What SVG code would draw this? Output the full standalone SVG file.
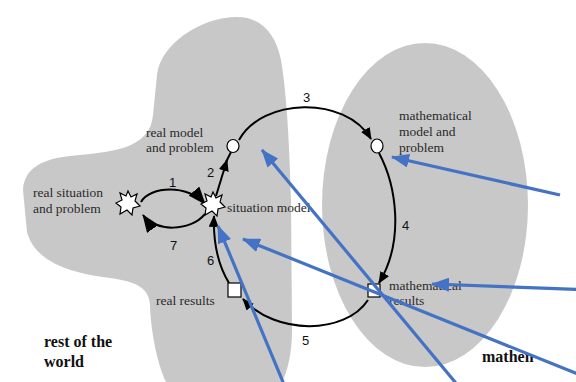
<svg xmlns="http://www.w3.org/2000/svg" width="576" height="382" viewBox="0 0 576 382">
<style>
.region{fill:#c8c8c8;stroke:none}
.lbl{font-family:"Liberation Serif",serif;font-size:13.5px;fill:#2a2a2a}
.big{font-family:"Liberation Serif",serif;font-size:16px;font-weight:bold;fill:#111}
.num{font-family:"Liberation Sans",sans-serif;font-size:13px;fill:#111}
.arc{fill:none;stroke:#000;stroke-width:2}
.blue{fill:none;stroke:#4472c4;stroke-width:3.2}
.node{fill:#fff;stroke:#000;stroke-width:1.2}
</style>
<defs>
<marker id="ah" viewBox="0 0 12 10" refX="11" refY="5" markerWidth="12" markerHeight="10" markerUnits="userSpaceOnUse" orient="auto"><path d="M0,0 L12,5 L0,10 Z" fill="#000"/></marker>
<marker id="ahBig" viewBox="0 0 18 14" refX="17" refY="7" markerWidth="18" markerHeight="14" markerUnits="userSpaceOnUse" orient="auto"><path d="M0,0 L18,7 L0,14 Z" fill="#000"/></marker>
<marker id="bh" viewBox="0 0 18 14" refX="17" refY="7" markerWidth="18" markerHeight="14" markerUnits="userSpaceOnUse" orient="auto"><path d="M0,0 L18,7 L0,14 Z" fill="#4472c4"/></marker>
</defs>
<g id="regions">
<path class="region" d="M237,17 C262,17 276,35 281,60 C286,90 289,130 291,200 L292,330 C292,355 287,372 282,382 L166,382 C158,365 151,335 150,305 C149,290 140,282 110,278 C70,273 35,262 27,232 L23,190 C24,170 40,159 70,156 C110,152 150,150 153,115 L157,75 C160,45 200,17 237,17 Z"/>
<ellipse class="region" cx="425" cy="205" rx="103" ry="162"/>
</g>
<g id="connectors">
<path class="arc" d="M141,202 C150,186 188,184 205,204" marker-end="url(#ahBig)"/>
<path class="arc" d="M205,214 C190,232 155,232 143,215" marker-end="url(#ahBig)"/>
<path class="arc" d="M216,196 L227,160" marker-end="url(#ah)"/>
<path class="arc" d="M226,162 L231,152"/>
<path class="arc" d="M239,140 C262,98 345,95 371,139" marker-end="url(#ah)"/>
<path class="arc" d="M379,153 C396,185 405,240 379,283" marker-end="url(#ah)"/>
<path class="arc" d="M368,300 C345,335 275,335 243,299" marker-end="url(#ah)"/>
<path class="arc" d="M229,283 C218,265 213,245 214,216" marker-end="url(#ah)"/>
<text class="num" x="169" y="187">1</text>
<text class="num" x="207" y="177">2</text>
<text class="num" x="303" y="102">3</text>
<text class="num" x="402" y="230">4</text>
<text class="num" x="302" y="345">5</text>
<text class="num" x="207" y="265">6</text>
<text class="num" x="170" y="250">7</text>
</g>
<g id="real-situation">
<polygon class="node" points="128,191 131,197 137,194 135,201 140,206 133,208 132,215 127,210 120,214 121,207 116,203 122,200 120,193 126,196"/>
<text class="lbl" x="33" y="197">real situation</text>
<text class="lbl" x="33" y="213">and problem</text>
</g>
<g id="situation-model">
<polygon class="node" points="213,192 216,198 222,195 220,202 225,207 218,209 217,216 212,211 205,215 206,208 201,204 207,201 205,194 211,197"/>
<text class="lbl" x="227" y="212">situation model</text>
</g>
<g id="real-model">
<ellipse class="node" cx="233" cy="146" rx="6" ry="6.5"/>
<text class="lbl" x="146" y="137">real model</text>
<text class="lbl" x="146" y="152">and problem</text>
</g>
<g id="mathematical-model">
<ellipse class="node" cx="377" cy="146" rx="6" ry="7"/>
<text class="lbl" x="399" y="120">mathematical</text>
<text class="lbl" x="399" y="136">model and</text>
<text class="lbl" x="399" y="152">problem</text>
</g>
<g id="mathematical-results">
<rect class="node" x="368" y="284" width="12" height="13"/>
<text class="lbl" x="389" y="290">mathematical</text>
<text class="lbl" x="389" y="305">results</text>
</g>
<g id="real-results">
<rect class="node" x="228" y="283" width="13" height="14"/>
<text class="lbl" x="156" y="305">real results</text>
</g>
<g id="world-labels">
<text class="big" x="44" y="347">rest of the</text>
<text class="big" x="44" y="367">world</text>
<text class="big" x="482" y="362">mathen</text>
</g>
<g id="annotations">
<line class="blue" x1="560" y1="195" x2="392" y2="157" marker-end="url(#bh)"/>
<line class="blue" x1="590" y1="290" x2="432" y2="284" marker-end="url(#bh)"/>
<line class="blue" x1="600" y1="383" x2="243" y2="239" marker-end="url(#bh)"/>
<line class="blue" x1="465" y1="394" x2="262" y2="150" marker-end="url(#bh)"/>
<line class="blue" x1="288" y1="394" x2="218" y2="226" marker-end="url(#bh)"/>
</g>
</svg>
